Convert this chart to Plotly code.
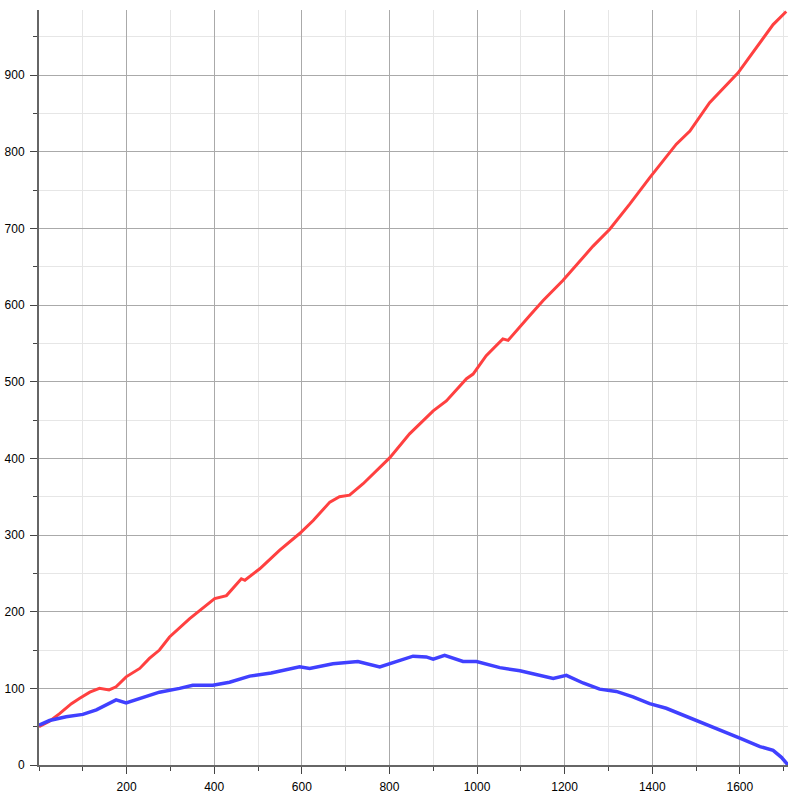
import plotly.graph_objects as go

red_x = [0, 24, 47, 74, 93, 116, 138, 160, 176, 199,
         230, 252, 275, 298, 344, 401, 428, 462, 470, 504,
         549, 595, 626, 664, 686, 709, 740, 801, 846, 900,
         930, 976, 991, 1021, 1059, 1071, 1120, 1151, 1196, 1265,
         1303, 1349, 1394, 1455, 1486, 1531, 1596, 1640, 1676, 1706]
red_y = [50, 57, 67, 80, 87, 95, 100, 98, 102, 115,
         126, 139, 150, 167, 191, 217, 221, 243, 241, 256,
         280, 302, 319, 343, 350, 352, 367, 401, 432, 462,
         475, 504, 510, 534, 556, 554, 586, 606, 632, 677,
         699, 732, 766, 810, 827, 864, 903, 938, 966, 983]

blue_x = [0, 24, 62, 100, 131, 154, 176, 199, 230, 275,
          321, 351, 397, 435, 481, 530, 595, 618, 671, 728,
          778, 823, 854, 884, 900, 926, 968, 999, 1052, 1098,
          1144, 1174, 1204, 1242, 1280, 1318, 1356, 1394, 1432, 1463,
          1509, 1554, 1600, 1646, 1676, 1695, 1710]
blue_y = [52, 58, 63, 66, 72, 78, 85, 81, 87, 95,
          100, 104, 104, 108, 116, 120, 128, 126, 132, 135,
          128, 137, 142, 141, 138, 143, 135, 135, 127, 123,
          117, 113, 117, 107, 99, 96, 89, 80, 74, 67,
          56, 46, 35, 24, 19, 10, 0]

x_ticks = [200, 400, 600, 800, 1000, 1200, 1400, 1600]
y_ticks = [0, 100, 200, 300, 400, 500, 600, 700, 800, 900]

fig = go.Figure()
fig.add_trace(go.Scatter(x=red_x, y=red_y, mode="lines",
                         line=dict(color="rgb(255,64,64)", width=3), showlegend=False))
fig.add_trace(go.Scatter(x=blue_x, y=blue_y, mode="lines",
                         line=dict(color="rgb(64,64,255)", width=3.5), showlegend=False))

font = dict(family="Liberation Sans, Arial, sans-serif", size=12, color="black")

fig.update_layout(
    width=800, height=800,
    margin=dict(l=39, r=12, t=10, b=35, autoexpand=False),
    paper_bgcolor="white", plot_bgcolor="white",
    font=font,
    xaxis=dict(range=[0, 1710], tickvals=x_ticks, ticktext=[str(v) for v in x_ticks],
               showgrid=True, gridcolor="#aaaaaa", gridwidth=1,
               showline=True, linecolor="#666666", linewidth=2,
               ticks="outside", ticklen=7, tickcolor="#444444",
               ticklabelstandoff=3,
               zeroline=False, tickfont=font, automargin=False,
               minor=dict(dtick=100, tick0=0, showgrid=True, gridcolor="#e6e6e6",
                          ticks="outside", ticklen=4, tickcolor="#444444")),
    yaxis=dict(range=[0, 985], tickvals=y_ticks, ticktext=[str(v) for v in y_ticks],
               showgrid=True, gridcolor="#aaaaaa", gridwidth=1,
               showline=True, linecolor="#666666", linewidth=2,
               ticks="outside", ticklen=7, tickcolor="#444444",
               ticklabelstandoff=3,
               zeroline=False, tickfont=font, automargin=False,
               minor=dict(dtick=50, tick0=0, showgrid=True, gridcolor="#e6e6e6",
                          ticks="outside", ticklen=4, tickcolor="#444444")),
)

fig.write_html("out.html",
               config={"displayModeBar": False},
               post_script="document.body.style.margin='0';document.body.style.overflow='hidden';")
